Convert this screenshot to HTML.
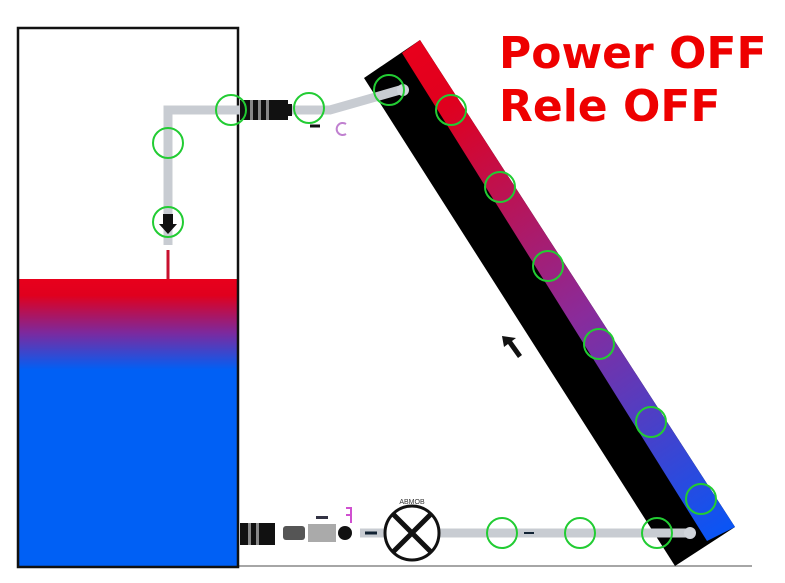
<!DOCTYPE html>
<html><head><meta charset="utf-8"><style>
html,body{margin:0;padding:0;background:#fff;width:785px;height:583px;overflow:hidden}
svg{display:block}
</style></head><body>
<svg width="785" height="583" viewBox="0 0 785 583" xmlns="http://www.w3.org/2000/svg">
<defs>
<linearGradient id="liq" x1="0" y1="279" x2="0" y2="370" gradientUnits="userSpaceOnUse">
<stop offset="0" stop-color="#e8001c"/><stop offset="0.18" stop-color="#e0001e"/>
<stop offset="0.6" stop-color="#7a2aa0"/><stop offset="1" stop-color="#0060f5"/>
</linearGradient>
<linearGradient id="pan" x1="409" y1="48" x2="720" y2="535" gradientUnits="userSpaceOnUse">
<stop offset="0" stop-color="#e8001c"/><stop offset="0.12" stop-color="#e0001e"/>
<stop offset="0.55" stop-color="#8a2b9a"/><stop offset="1" stop-color="#0a55f5"/>
</linearGradient>
</defs>
<!-- ground -->
<line x1="238" y1="566" x2="752" y2="566" stroke="#888" stroke-width="1.5"/>
<!-- tank -->
<rect x="18" y="279" width="220" height="288" fill="url(#liq)"/>
<rect x="18" y="28" width="220" height="539" fill="none" stroke="#111" stroke-width="2.5"/>
<!-- panel -->
<polygon points="364,78 420,40 735,527 675,566" fill="#000"/>
<polygon points="402,53 420,40 735,527 707,541" fill="url(#pan)"/>
<!-- top pipe -->
<polyline points="168,245 168,110 265,110" fill="none" stroke="#c8ccd2" stroke-width="9"/>
<polyline points="285,110 330,110 400,90" fill="none" stroke="#c8ccd2" stroke-width="9"/>
<circle cx="403" cy="90" r="6" fill="#d0d4da"/>
<line x1="168" y1="250" x2="168" y2="279" stroke="#c8102e" stroke-width="3"/>
<rect x="240" y="100" width="48" height="20" fill="#111"/>
<rect x="250" y="100" width="3" height="20" fill="#888"/><rect x="258" y="100" width="3" height="20" fill="#888"/><rect x="266" y="100" width="3" height="20" fill="#888"/>
<rect x="282" y="104" width="10" height="12" fill="#111"/>
<path d="M163 214 h10 v10 h4 l-9 10 l-9 -10 h4z" fill="#111"/>
<path d="M310 126 h10" stroke="#111" stroke-width="3"/>
<path d="M346 124 a6 6 0 1 0 0 10" fill="none" stroke="#c080d0" stroke-width="2"/>
<!-- bottom pipe -->
<line x1="360" y1="533" x2="690" y2="533" stroke="#c8ccd2" stroke-width="9"/>
<circle cx="690" cy="533" r="6" fill="#d0d4da"/>
<rect x="240" y="523" width="35" height="22" fill="#111"/>
<rect x="248" y="523" width="3" height="22" fill="#888"/><rect x="256" y="523" width="3" height="22" fill="#888"/>
<rect x="283" y="526" width="22" height="14" rx="3" fill="#555"/>
<rect x="308" y="524" width="28" height="18" fill="#aaa"/>
<rect x="316" y="516" width="12" height="3" fill="#334"/>
<circle cx="345" cy="533" r="7" fill="#111"/>
<path d="M365 533 h12" stroke="#123" stroke-width="3"/>
<path d="M524 533 h10" stroke="#123" stroke-width="2"/>
<path d="M346 508 h5 v15 M346 515 h5" stroke="#d050d0" stroke-width="2" fill="none"/>
<circle cx="412" cy="533" r="27" fill="#fff" stroke="#111" stroke-width="3"/>
<path d="M393 514 L431 552 M431 514 L393 552" stroke="#111" stroke-width="5"/>
<text x="412" y="504" font-family="Liberation Sans, sans-serif" font-size="7" text-anchor="middle" fill="#333">ABMOB</text>
<!-- arrow -->
<path d="M502 336 l14 2 l-4 3 l10 14 l-4 3 l-10 -14 l-4 3z" fill="#111"/>
<!-- green circles -->
<g fill="none" stroke="#22cc33" stroke-width="2">
<circle cx="231" cy="110" r="15"/><circle cx="168" cy="143" r="15"/><circle cx="168" cy="222" r="15"/>
<circle cx="309" cy="108" r="15"/><circle cx="389" cy="90" r="15"/><circle cx="451" cy="110" r="15"/>
<circle cx="500" cy="187" r="15"/><circle cx="548" cy="266" r="15"/><circle cx="599" cy="344" r="15"/>
<circle cx="651" cy="422" r="15"/><circle cx="701" cy="499" r="15"/><circle cx="657" cy="533" r="15"/>
<circle cx="580" cy="533" r="15"/><circle cx="502" cy="533" r="15"/>
</g>
<text x="499" y="68" font-family="DejaVu Sans, sans-serif" font-weight="bold" font-size="44" fill="#ee0000">Power OFF</text>
<text x="499" y="121" font-family="DejaVu Sans, sans-serif" font-weight="bold" font-size="44" fill="#ee0000">Rele OFF</text>
</svg>
</body></html>
